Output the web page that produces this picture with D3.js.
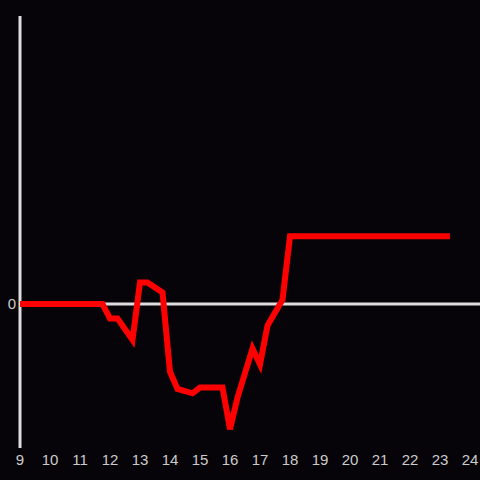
<!DOCTYPE html>
<meta charset="utf-8">
<style>
    html, body { margin: 0; padding: 0; background: #060408; }
    svg { display: block; }
</style>
<body>
<svg width="480" height="480"></svg>
<script src="https://cdn.jsdelivr.net/npm/d3@7"></script>
<script>
    // hours of the day, and the value at each
    const hours = [9, 11.75, 12, 12.25, 12.75, 13, 13.25, 13.75, 14, 14.25, 14.75, 15, 15.75, 16, 16.25, 16.75, 17, 17.25, 17.75, 18, 23.33];
    const values = [0, 0, -0.1, -0.1, -0.25, 0.15, 0.15, 0.08, -0.47, -0.59, -0.62, -0.58, -0.58, -0.87, -0.65, -0.31, -0.42, -0.15, 0.03, 0.47, 0.47];
    const xTicks = d3.range(9, 25);
    const yTicks = [0];

    const svg = d3.select('svg');
    const width = 480, height = 480;

    svg.append('rect').attr('width', width).attr('height', height).attr('fill', '#060408');

    const x = d3.scaleLinear().domain([9, 24]).range([20, 470]);
    const y = d3.scaleLinear().domain([-1, 2]).range([448, 16]);

    // y axis line
    svg.append('line')
        .attr('x1', x(9)).attr('x2', x(9))
        .attr('y1', y(2)).attr('y2', y(-1))
        .attr('stroke', '#dddddd').attr('stroke-width', 3);

    // zero line
    svg.append('line')
        .attr('x1', x(9)).attr('x2', width)
        .attr('y1', y(0)).attr('y2', y(0))
        .attr('stroke', '#dddddd').attr('stroke-width', 3);

    // x tick labels
    svg.append('g')
        .selectAll('text')
        .data(xTicks)
        .join('text')
        .attr('x', d => x(d))
        .attr('y', 461)
        .attr('text-anchor', 'middle')
        .attr('dominant-baseline', 'middle')
        .attr('fill', '#cccccc')
        .attr('font-family', 'Liberation Sans, Arial, sans-serif')
        .attr('font-size', 15)
        .text(d => d);

    // y tick labels
    svg.append('g')
        .selectAll('text')
        .data(yTicks)
        .join('text')
        .attr('x', 16)
        .attr('y', d => y(d) + 1)
        .attr('text-anchor', 'end')
        .attr('dominant-baseline', 'middle')
        .attr('fill', '#cccccc')
        .attr('font-family', 'Liberation Sans, Arial, sans-serif')
        .attr('font-size', 15)
        .text(d => d);

    const line = d3.line()
        .x((d, i) => x(hours[i]))
        .y(d => y(d));

    svg.append('path')
        .attr('d', line(values))
        .attr('fill', 'none')
        .attr('stroke', '#ff0000')
        .attr('stroke-width', 6)
        .attr('stroke-linejoin', 'miter');
</script>
</body>
